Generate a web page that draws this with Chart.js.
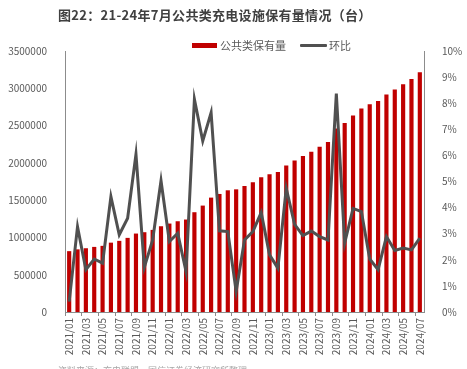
<!DOCTYPE html>
<html>
<head>
<meta charset="utf-8">
<script src="https://cdn.jsdelivr.net/npm/chart.js@4/dist/chart.umd.min.js"></script>
<style>
    html, body { margin: 0; padding: 0; background: #fff; }
    body { width: 467px; height: 369px; position: relative; overflow: hidden; font-family: "Noto Sans CJK SC", sans-serif; }
    #chartBox { position: absolute; left: 0; top: 0; width: 467px; height: 369px; }
    .title { position: absolute; left: 58px; top: 5px; font-size: 13px; font-weight: bold; color: #404040; white-space: nowrap; letter-spacing: 0.3px; }
    .legend { position: absolute; top: 37px; font-size: 11px; color: #595959; white-space: nowrap; }
    .swatch { position: absolute; }
    .source { position: absolute; left: 58px; top: 364px; font-size: 9px; color: #a6a6a6; white-space: nowrap; }
</style>
</head>
<body>
<div id="chartBox"><canvas id="mainChart" width="467" height="369"></canvas></div>
<div class="title">图22：21-24年7月公共类充电设施保有量情况（台）</div>
<div class="swatch" style="left:192px; top:43px; width:25px; height:5px; background:#c00000;"></div>
<div class="legend" style="left:220px;">公共类保有量</div>
<div class="swatch" style="left:300px; top:44px; width:27px; height:3px; background:#505050; border-radius:1px;"></div>
<div class="legend" style="left:329px;">环比</div>
<div class="source">资料来源：充电联盟，国信证券经济研究所整理</div>

<script>
// Monthly categories 2021/01 - 2024/07
const months = [
    '2021/01', '2021/02', '2021/03', '2021/04', '2021/05', '2021/06', '2021/07', '2021/08', '2021/09', '2021/10', '2021/11', '2021/12',
    '2022/01', '2022/02', '2022/03', '2022/04', '2022/05', '2022/06', '2022/07', '2022/08', '2022/09', '2022/10', '2022/11', '2022/12',
    '2023/01', '2023/02', '2023/03', '2023/04', '2023/05', '2023/06', '2023/07', '2023/08', '2023/09', '2023/10', '2023/11', '2023/12',
    '2024/01', '2024/02', '2024/03', '2024/04', '2024/05', '2024/06', '2024/07'
];

// 公共类保有量 (台)
const publicPiles = [
    816000, 840000, 855000, 873000, 887000, 930000, 954000, 994000, 1052000, 1070000, 1101000, 1150000,
    1186000, 1217000, 1240000, 1338000, 1427000, 1534000, 1583000, 1632000, 1645000, 1690000, 1739000, 1806000,
    1846000, 1877000, 1966000, 2033000, 2091000, 2149000, 2216000, 2279000, 2461000, 2533000, 2635000, 2729000,
    2787000, 2831000, 2916000, 2983000, 3054000, 3126000, 3215000
];

// 环比 (%)
const momGrowth = [
    0.4, 3.27, 1.62, 2.03, 1.87, 4.42, 2.96, 3.59, 6.04, 1.71, 2.76, 5.03,
    2.70, 3.02, 1.55, 8.15, 6.55, 7.64, 3.11, 3.08, 0.79, 2.76, 3.08, 3.81,
    2.19, 1.68, 4.74, 3.36, 2.93, 3.10, 2.89, 2.76, 8.37, 2.64, 3.97, 3.85,
    2.03, 1.62, 2.89, 2.36, 2.45, 2.38, 2.83
];

const leftTicks = { min: 0, max: 3500000, step: 500000 };
const rightTicks = { min: 0, max: 10, step: 1 };

const textGray = '#595959';
const axisGray = '#8c8c8c';
const fontFamily = '"Noto Sans CJK SC", sans-serif';

const ctx = document.getElementById('mainChart').getContext('2d');
new Chart(ctx, {
    type: 'bar',
    data: {
        labels: months,
        datasets: [
            {
                type: 'line',
                label: '环比',
                data: momGrowth,
                yAxisID: 'yRight',
                borderColor: '#505050',
                borderWidth: 3,
                pointRadius: 0,
                tension: 0,
                order: 0
            },
            {
                type: 'bar',
                label: '公共类保有量',
                data: publicPiles,
                yAxisID: 'yLeft',
                backgroundColor: '#c00000',
                barPercentage: 0.5,
                categoryPercentage: 1,
                order: 1
            }
        ]
    },
    options: {
        responsive: false,
        animation: false,
        layout: { padding: { left: 0, right: 0, top: 51, bottom: 0 } },
        plugins: {
            legend: { display: false },
            tooltip: { enabled: false }
        },
        scales: {
            x: {
                offset: true,
                grid: {
                    offset: true,
                    drawOnChartArea: false,
                    drawTicks: true,
                    tickLength: 4,
                    color: (c) => (c.index % 2 === 0 ? axisGray : 'rgba(0,0,0,0)')
                },
                border: { display: true, color: axisGray, width: 1 },
                ticks: {
                    autoSkip: false,
                    maxRotation: 90,
                    minRotation: 90,
                    padding: 2,
                    color: textGray,
                    font: { family: fontFamily, size: 10 },
                    callback: function (value, index) {
                        return index % 2 === 0 ? months[index] : '';
                    }
                },
                afterFit: (scale) => { scale.height = 57; }
            },
            yLeft: {
                position: 'left',
                min: leftTicks.min,
                max: leftTicks.max,
                grid: { display: false },
                border: { display: true, color: axisGray, width: 1 },
                ticks: {
                    stepSize: leftTicks.step,
                    padding: 10,
                    color: textGray,
                    font: { family: fontFamily, size: 10 },
                    callback: (v) => String(v)
                },
                afterFit: (scale) => { scale.width = 65; }
            },
            yRight: {
                position: 'right',
                min: rightTicks.min,
                max: rightTicks.max,
                grid: { display: false },
                border: { display: true, color: axisGray, width: 1 },
                ticks: {
                    stepSize: rightTicks.step,
                    padding: 10,
                    color: textGray,
                    font: { family: fontFamily, size: 10 },
                    callback: (v) => v + '%'
                },
                afterFit: (scale) => { scale.width = 43; }
            }
        }
    }
});
</script>
</body>
</html>
